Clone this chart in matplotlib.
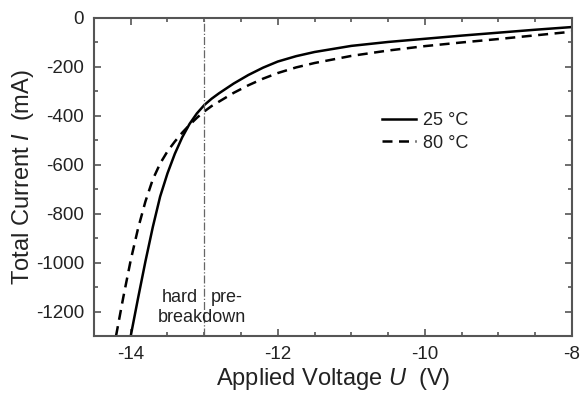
import matplotlib
matplotlib.use('Agg')
import matplotlib.pyplot as plt
from matplotlib.ticker import MultipleLocator

plt.rcParams['font.family'] = ['Liberation Sans', 'DejaVu Sans']
plt.rcParams['mathtext.fontset'] = 'custom'
plt.rcParams['mathtext.rm'] = 'Liberation Sans'
plt.rcParams['mathtext.it'] = 'Liberation Sans:italic'
plt.rcParams['axes.unicode_minus'] = False

# 25 °C curve
u_25 = [-14.0, -13.9, -13.8, -13.7, -13.6, -13.5, -13.4, -13.3, -13.2, -13.1, -13.0,
        -12.9, -12.8, -12.6, -12.4, -12.2, -12.0, -11.75, -11.5, -11.0, -10.5, -10.0,
        -9.5, -9.0, -8.5, -8.0]
i_25 = [-1300, -1145, -995, -855, -730, -635, -555, -488, -433, -390, -356,
        -330, -308, -268, -233, -203, -178, -156, -139, -114, -98, -85,
        -72, -60, -48, -37]

# 80 °C curve
u_80 = [-14.2, -14.1, -14.0, -13.9, -13.8, -13.7, -13.6, -13.5, -13.4, -13.3, -13.2,
        -13.1, -13.0, -12.9, -12.8, -12.6, -12.4, -12.2, -12.0, -11.75, -11.5, -11.0,
        -10.5, -10.0, -9.5, -9.0, -8.5, -8.0]
i_80 = [-1300, -1140, -990, -860, -750, -660, -595, -545, -505, -469, -437,
        -408, -382, -360, -342, -306, -275, -248, -225, -202, -184, -155,
        -133, -115, -100, -86, -71, -56]

labels = ['25 °C', '80 °C']
breakdown_u = -13.0

fig = plt.figure(figsize=(5.8, 4.0), dpi=100)
ax = fig.add_axes([0.162, 0.16, 0.824, 0.795])

ax.plot(u_25, i_25, color='black', lw=1.8, label=labels[0], solid_joinstyle='round')
ax.plot(u_80, i_80, color='black', lw=1.8, ls=(0, (4, 2.6)), label=labels[1])
ax.axvline(breakdown_u, color='#666666', lw=0.9, ls='-.')

ax.text(-13.09, -1143, 'hard', ha='right', va='center', fontsize=13, color='#222222')
ax.text(-12.91, -1143, 'pre-', ha='left', va='center', fontsize=13, color='#222222')
ax.text(-13.03, -1226, 'breakdown', ha='center', va='center', fontsize=13,
        color='#222222')

ax.set_xlim(-14.5, -8)
ax.set_ylim(-1300, 0)
ax.xaxis.set_major_locator(MultipleLocator(2))
ax.xaxis.set_minor_locator(MultipleLocator(0.5))
ax.yaxis.set_major_locator(MultipleLocator(200))
ax.yaxis.set_minor_locator(MultipleLocator(100))
ax.tick_params(which='both', direction='in', top=True, right=True,
               color='#555555', width=1.2, labelcolor='#222222')
ax.tick_params(which='major', length=5, labelsize=13.5, pad=7)
ax.tick_params(which='minor', length=3)
for s in ax.spines.values():
    s.set_color('#555555')
    s.set_linewidth(1.5)

ax.set_xlabel('Applied Voltage $U$  (V)', fontsize=17, labelpad=2, color='#222222')
ax.set_ylabel('Total Current $I$  (mA)', fontsize=17, labelpad=0, color='#222222')

ax.legend(loc='center left', bbox_to_anchor=(0.603, 0.642), frameon=False,
          fontsize=13, handlelength=1.85, handletextpad=0.4,
          labelspacing=0.3, borderpad=0, borderaxespad=0, labelcolor='#222222')

fig.savefig('out.png', dpi=100)
